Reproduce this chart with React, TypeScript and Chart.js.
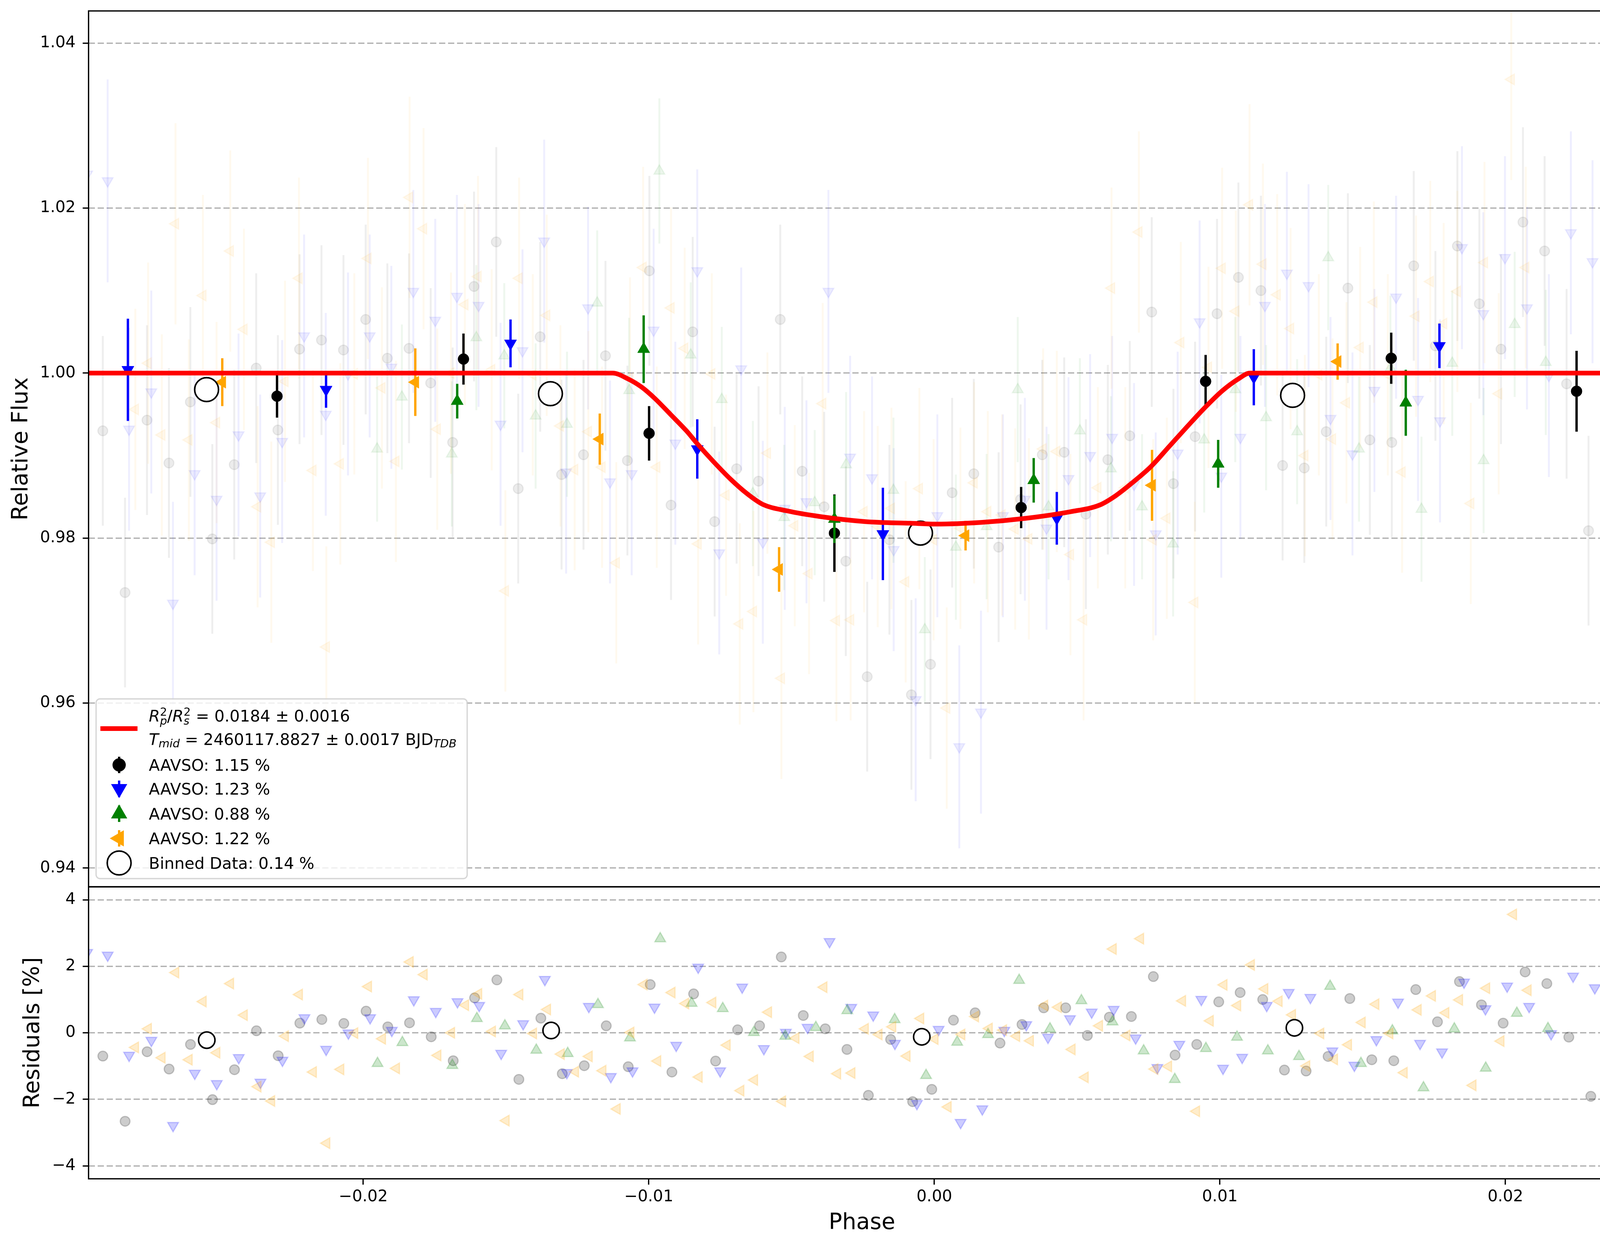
import React, { useEffect, useRef } from 'react';
import { Chart, registerables } from 'chart.js';
import { drawPoint } from 'chart.js/helpers';

Chart.register(...registerables);

// ---- light curve data (phase, relative flux, residual in %) ----

const blackPhase = [-0.02912, -0.02834, -0.02757, -0.0268, -0.02605, -0.02528, -0.02451, -0.02374, -0.02298, -0.02222, -0.02145, -0.02068, -0.0199, -0.01914, -0.01838, -0.01762, -0.01685, -0.0161,
  -0.01532, -0.01455, -0.01378, -0.01303, -0.01226, -0.01149, -0.01072, -0.00995, -0.00919, -0.00843, -0.00766, -0.00689, -0.00612, -0.00536, -0.00459, -0.00382, -0.00306,
  -0.00231, -0.00153, -0.00076, -0.00009, 0.00067, 0.00143, 0.0023, 0.00307, 0.00383, 0.0046, 0.00536, 0.00613, 0.0069, 0.00767, 0.00843, 0.00919, 0.00996, 0.01071,
  0.0115, 0.01226, 0.01302, 0.01379, 0.01455, 0.01532, 0.01609, 0.01686, 0.01762, 0.01839, 0.01916, 0.01992, 0.02069, 0.02145, 0.02222, 0.02299, 0.02376, 0.02451];
const blackFlux = [0.993, 0.9734, 0.9943, 0.9891, 0.9965, 0.9799, 0.9889, 1.0006, 0.9931, 1.0029, 1.004, 1.0028, 1.0065, 1.0018, 1.003, 0.9988, 0.9916, 1.0105,
  1.0159, 0.986, 1.0044, 0.9877, 0.9901, 1.0021, 0.9894, 1.0124, 0.984, 1.005, 0.982, 0.9884, 0.9869, 1.0065, 0.9881, 0.9838, 0.9772,
  0.9632, 0.9798, 0.961, 0.9647, 0.9855, 0.9878, 0.9789, 0.9847, 0.9901, 0.9904, 0.9829, 0.9895, 0.9924, 1.0074, 0.9866, 0.9923, 1.0072, 1.0116,
  1.01, 0.9888, 0.9885, 0.9929, 1.0103, 0.9919, 0.9916, 1.013, 1.0033, 1.0154, 1.0084, 1.0029, 1.0183, 1.0148, 0.9987, 0.9809, 0.9812, 1.0032];
const blackResid = [-0.7, -2.66, -0.57, -1.09, -0.35, -2.01, -1.11, 0.06, -0.69, 0.29, 0.4, 0.28, 0.65, 0.18, 0.3, -0.12, -0.84, 1.05,
  1.59, -1.4, 0.44, -1.23, -0.99, 0.21, -1.02, 1.45, -1.18, 1.17, -0.85, 0.09, 0.21, 2.28, 0.52, 0.12, -0.5,
  -1.88, -0.2, -2.07, -1.7, 0.38, 0.6, -0.31, 0.25, 0.75, 0.75, -0.08, 0.47, 0.49, 1.69, -0.67, -0.35, 0.93, 1.21,
  1.0, -1.12, -1.15, -0.71, 1.03, -0.81, -0.84, 1.3, 0.33, 1.54, 0.84, 0.29, 1.83, 1.48, -0.13, -1.91, -1.88, 0.32];
const blackErr = 0.0115;

const bluePhase = [-0.02967, -0.02895, -0.0282, -0.02742, -0.02666, -0.0259, -0.02513, -0.02436, -0.0236, -0.02283, -0.02206, -0.0213, -0.02052, -0.01976, -0.019, -0.01823, -0.01746, -0.0167,
  -0.01594, -0.01517, -0.0144, -0.01364, -0.01287, -0.0121, -0.01133, -0.01057, -0.0098, -0.00904, -0.00827, -0.0075, -0.00673, -0.00597, -0.0052, -0.00444, -0.00367, -0.00291,
  -0.00214, -0.00138, -0.00061, 0.00015, 0.00092, 0.00168, 0.00245, 0.00322, 0.00398, 0.00475, 0.00551, 0.00628, 0.00705, 0.00781, 0.00858, 0.00935, 0.01011, 0.01078,
  0.01164, 0.01241, 0.01317, 0.01394, 0.01471, 0.01548, 0.01624, 0.01701, 0.01778, 0.01855, 0.0193, 0.02006, 0.02083, 0.0216, 0.02237, 0.02313, 0.0239, 0.02455];
const blueFlux = [1.0241, 1.0233, 0.9932, 0.9977, 0.9721, 0.9878, 0.9847, 0.9925, 0.9851, 0.9917, 1.0045, 0.995, 0.9999, 1.0045, 1.0007, 1.0099, 1.0064, 1.0093,
  1.0082, 0.9938, 1.0027, 1.016, 0.988, 1.0079, 0.9868, 0.9878, 1.0052, 0.9915, 1.0124, 0.9782, 1.0005, 0.9795, 0.9836, 0.9844, 1.0099, 0.9898,
  0.9873, 0.9786, 0.9604, 0.9827, 0.9547, 0.9589, 0.9827, 0.9847, 0.9812, 0.9872, 0.99, 0.9922, 0.9865, 0.9805, 0.9903, 1.0062, 0.9875, 0.9922,
  1.0082, 1.0121, 1.0106, 0.9945, 0.9902, 0.9979, 1.0092, 0.9968, 0.9942, 1.0152, 1.0072, 1.014, 1.0079, 0.9997, 1.017, 1.0135, 1.0002, 0.9814];
const blueResid = [2.41, 2.33, -0.68, -0.23, -2.79, -1.22, -1.53, -0.75, -1.49, -0.83, 0.45, -0.5, -0.01, 0.45, 0.07, 0.99, 0.64, 0.93,
  0.82, -0.62, 0.27, 1.6, -1.2, 0.79, -1.32, -1.15, 0.77, -0.38, 1.97, -1.15, 1.37, -0.48, 0.01, 0.16, 2.74, 0.76,
  0.53, -0.32, -2.13, 0.1, -2.7, -2.29, 0.07, 0.24, -0.14, 0.42, 0.62, 0.7, -0.16, -1.05, -0.35, 1.0, -1.07, -0.74,
  0.82, 1.21, 1.06, -0.55, -0.98, -0.21, 0.92, -0.32, -0.58, 1.52, 0.72, 1.4, 0.79, -0.03, 1.7, 1.35, 0.02, -1.86];
const blueErr = 0.0123;

const greenPhase = [-0.0195, -0.01863, -0.01688, -0.01602, -0.01504, -0.01394, -0.01284, -0.01178, -0.01066, -0.0096, -0.0085, -0.00741, -0.00632, -0.00522, -0.00415, -0.00305,
  -0.00139, -0.00029, 0.0008, 0.00188, 0.00297, 0.00405, 0.00515, 0.00624, 0.00733, 0.00842, 0.00951, 0.0106,
  0.01168, 0.01277, 0.01386, 0.01494, 0.01604, 0.01713, 0.01821, 0.01931, 0.0204, 0.02149];
const greenFlux = [0.9908, 0.9971, 0.9902, 1.0043, 1.0021, 0.9948, 0.9938, 1.0085, 0.9979, 1.0245, 1.0022, 0.9968, 0.9854, 0.9825, 0.9843, 0.9889,
  0.9858, 0.9689, 0.9789, 0.9814, 0.998, 0.9838, 0.993, 0.9884, 0.9838, 0.9793, 0.9919, 0.998,
  0.9946, 0.9929, 1.014, 0.9908, 1.0006, 0.9835, 1.0012, 0.9894, 1.0059, 1.0013];
const greenResid = [-0.92, -0.29, -0.98, 0.43, 0.21, -0.52, -0.62, 0.85, -0.15, 2.83, 0.89, 0.73, 0.01, -0.1, 0.16, 0.67,
  0.4, -1.28, -0.28, -0.05, 1.58, 0.12, 0.97, 0.33, -0.54, -1.4, -0.47, -0.13,
  -0.54, -0.71, 1.4, -0.92, 0.06, -1.65, 0.12, -1.06, 0.59, 0.13];
const greenErr = 0.0088;

const orangePhase = [-0.02798, -0.02753, -0.02705, -0.02657, -0.0261, -0.02561, -0.02513, -0.02465, -0.02417, -0.02369, -0.02321, -0.02273, -0.02224, -0.02175, -0.02128, -0.02079, -0.0203, -0.01982, -0.01933, -0.01884, -0.01836, -0.01787, -0.01739, -0.01691, -0.01642,
  -0.01596, -0.01548, -0.015, -0.01452, -0.01404, -0.01355, -0.01307, -0.01257, -0.01209, -0.01161, -0.01111, -0.01063, -0.01017, -0.00969, -0.00919, -0.00871, -0.00824, -0.00776, -0.00726, -0.00678, -0.0063, -0.00581, -0.00532, -0.00485, -0.00435, -0.00387, -0.00339, -0.00289,
  -0.00242, -0.00194, -0.00146, -0.00096, -0.00048, 0.00002, 0.00048, 0.00096, 0.00144, 0.00192, 0.00242, 0.00288, 0.00336, 0.00386, 0.00434, 0.00482, 0.00528, 0.00578, 0.00626, 0.00674, 0.00722, 0.00772, 0.0082, 0.00869, 0.00918, 0.00966, 0.01014, 0.01062,
  0.0111, 0.01157, 0.01207, 0.01254, 0.01304, 0.01353, 0.01401, 0.0145, 0.01498, 0.01546, 0.01595, 0.01645, 0.01694, 0.01744, 0.01791, 0.01839, 0.01886, 0.01934, 0.01984, 0.02028, 0.02079];
const orangeFlux = [0.9956, 1.0012, 0.9925, 1.0181, 0.9919, 1.0094, 0.994, 1.0148, 1.0053, 0.9838, 0.9795, 0.999, 1.0115, 0.9882, 0.9668, 0.989, 0.9999, 1.0139, 0.9982, 0.9893, 1.0213, 1.0175, 0.9932, 1.0, 1.0083,
  1.0117, 1.0004, 0.9736, 1.0115, 0.9998, 1.007, 0.9936, 0.9883, 0.9929, 0.9886, 0.977, 0.9994, 1.0128, 0.9886, 1.0079, 1.003, 0.9793, 0.9999, 0.9852, 0.9696, 0.9711, 0.9903, 0.963, 0.9815, 0.9757, 0.9963, 0.97, 0.9701,
  0.9832, 0.9814, 0.9836, 0.9747, 0.986, 0.9798, 0.9594, 0.9812, 0.9867, 0.9832, 0.9828, 0.9811, 0.9799, 0.9908, 0.9905, 0.978, 0.9701, 0.9861, 1.0103, 0.9861, 1.0171, 0.9798, 0.9824, 1.0037, 0.9722, 1.0007, 1.0127, 1.0075,
  1.0204, 1.0132, 1.0095, 1.0054, 0.99, 0.9998, 0.992, 0.9964, 1.0031, 1.0086, 0.9998, 0.988, 1.0069, 1.0111, 1.006, 1.0099, 0.9842, 1.0134, 0.9975, 1.0356, 1.0128];
const orangeResid = [-0.44, 0.12, -0.75, 1.81, -0.81, 0.94, -0.6, 1.48, 0.53, -1.62, -2.05, -0.1, 1.15, -1.18, -3.32, -1.1, -0.01, 1.39, -0.18, -1.07, 2.13, 1.75, -0.68, 0.0, 0.83,
  1.17, 0.04, -2.64, 1.15, -0.02, 0.7, -0.64, -1.17, -0.71, -1.14, -2.29, 0.01, 1.45, -0.85, 1.21, 0.88, -1.33, 0.91, -0.37, -1.74, -1.42, 0.62, -2.06, -0.16, -0.71, 1.37, -1.23, -1.21,
  0.12, -0.05, 0.18, -0.7, 0.43, -0.19, -2.23, -0.05, 0.49, 0.13, 0.08, -0.1, -0.24, 0.82, 0.77, -0.5, -1.34, 0.21, 2.52, -0.08, 2.83, -1.09, -1.01, 0.96, -2.36, 0.36, 1.44, 0.82,
  2.04, 1.32, 0.95, 0.54, -1.0, -0.02, -0.8, -0.36, 0.31, 0.86, -0.02, -1.2, 0.69, 1.11, 0.6, 0.99, -1.58, 1.34, -0.25, 3.56, 1.28];
const orangeErr = 0.0122;

// binned points per observer
const blackBinPhase = [-0.02301, -0.01647, -0.00996, -0.00346, 0.00309, 0.00956, 0.01607, 0.02257];
const blackBinFlux = [0.9972, 1.0017, 0.9927, 0.9806, 0.9837, 0.999, 1.0018, 0.9978];
const blackBinErr = [0.0026, 0.0031, 0.0033, 0.0047, 0.0025, 0.0032, 0.0031, 0.0049];
const blueBinPhase = [-0.02824, -0.02129, -0.01482, -0.00827, -0.00176, 0.00434, 0.01125, 0.01776, 0.02426];
const blueBinFlux = [1.0004, 0.998, 1.0036, 0.9908, 0.9805, 0.9824, 0.9995, 1.0033, 0.9957];
const blueBinErr = [0.0062, 0.0022, 0.0029, 0.0036, 0.0056, 0.0032, 0.0034, 0.0027, 0.0052];
const greenBinPhase = [-0.01669, -0.01015, -0.00346, 0.00353, 0.01, 0.01658];
const greenBinFlux = [0.9966, 1.0029, 0.9823, 0.987, 0.989, 0.9964];
const greenBinErr = [0.0021, 0.0041, 0.0029, 0.0027, 0.0029, 0.004];
const orangeBinPhase = [-0.02493, -0.01816, -0.01169, -0.0054, 0.00114, 0.00768, 0.01419];
const orangeBinFlux = [0.9989, 0.9989, 0.992, 0.9762, 0.9803, 0.9864, 1.0014];
const orangeBinErr = [0.0029, 0.0041, 0.0031, 0.0027, 0.0018, 0.0043, 0.0022];

// all data binned
const allBinPhase = [-0.02548, -0.01342, -0.00044, 0.01261];
const allBinFlux = [0.998, 0.9975, 0.9806, 0.9973];
const allBinErr = [0.0015, 0.0015, 0.0015, 0.0015];
const allBinResid = [-0.22, 0.07, -0.12, 0.15];

// transit model
const modelPhase = [-0.02962, -0.01124, -0.0107, -0.01022, -0.00975, -0.00921, -0.00865, -0.00826, -0.00771, -0.00709, -0.00653, -0.00598, -0.00512, -0.00394, -0.00237, -0.00079,
  0.00011, 0.00168, 0.00325, 0.00482, 0.00584, 0.00639, 0.00702, 0.00765, 0.00828, 0.00891, 0.00953, 0.01016, 0.01071, 0.01111, 0.02455];
const modelFlux = [1.0, 1.0, 0.9993, 0.9983, 0.9969, 0.995, 0.993, 0.9914, 0.9893, 0.9871, 0.9854, 0.9841, 0.9833, 0.9826, 0.982, 0.9818,
  0.9817, 0.9819, 0.9824, 0.9832, 0.984, 0.9851, 0.9868, 0.9887, 0.9911, 0.9935, 0.9958, 0.9979, 0.9993, 1.0, 1.0];

const phaseTicks = [-0.02, -0.01, 0, 0.01, 0.02];
const fluxTicks = [0.94, 0.96, 0.98, 1.0, 1.02, 1.04];
const residTicks = [-4, -2, 0, 2, 4];

const legendLabels = ['AAVSO: 1.15 %', 'AAVSO: 1.23 %', 'AAVSO: 0.88 %', 'AAVSO: 1.22 %', 'Binned Data: 0.14 %'];

// ---- layout (page pixels) ----
const W = 4215;
const H = 3192;
const AXIS_W = 226.7;
const PAD_RIGHT = 28.5;
const PLOT_TOP = 28;
const SPLIT = 2270; // border shared by the two panels
const PAD = 50; // must exceed Chart.js' own label padding
const TOP_Y = PLOT_TOP - PAD;
const TOP_H = SPLIT + PAD - TOP_Y;
const BOT_TOP = SPLIT - PAD;
const BOT_H = H - BOT_TOP;
const PHASE_MIN = -0.02962;
const PHASE_MAX = 0.02455;
const FONT = 'DejaVu Sans';
const TICK_SIZE = 41;
const LABEL_SIZE = 57;

const pts = (xs: number[], ys: number[]) => xs.map((x, i) => ({ x, y: ys[i] }));

const errorBars = {
  id: 'errorBars',
  beforeDatasetDraw(chart: any, args: any) {
    const ds = chart.data.datasets[args.index];
    if (ds.errors == null) return;
    const meta = chart.getDatasetMeta(args.index);
    const ys = chart.scales.y;
    const { ctx, chartArea: a } = chart;
    ctx.save();
    ctx.beginPath();
    ctx.rect(a.left, a.top, a.right - a.left, a.bottom - a.top);
    ctx.clip();
    ctx.strokeStyle = ds.errorColor;
    ctx.lineWidth = ds.errorWidth;
    ctx.beginPath();
    meta.data.forEach((el: any, i: number) => {
      const p = ds.data[i];
      const e = Array.isArray(ds.errors) ? ds.errors[i] : ds.errors;
      ctx.moveTo(el.x, ys.getPixelForValue(p.y + e));
      ctx.lineTo(el.x, ys.getPixelForValue(p.y - e));
    });
    ctx.stroke();
    ctx.restore();
  },
};

const frame = {
  id: 'frame',
  afterDatasetsDraw(chart: any) {
    const { ctx, chartArea: a } = chart;
    ctx.save();
    ctx.strokeStyle = '#000';
    ctx.lineWidth = 3.3;
    ctx.strokeRect(a.left, a.top, a.right - a.left, a.bottom - a.top);
    ctx.restore();
  },
};

type Run = { t: string; size: number; italic?: boolean; dy?: number; sup?: string; sub?: string; subItalic?: boolean };

function drawRuns(ctx: CanvasRenderingContext2D, x: number, base: number, runs: Run[]) {
  const f = (size: number, italic?: boolean) => `${italic ? 'italic ' : ''}${size}px "${FONT}"`;
  for (const r of runs) {
    if (r.sup != null || r.sub != null) {
      let w = 0;
      if (r.sup != null) {
        ctx.font = f(r.size);
        ctx.fillText(r.sup, x, base - 15);
        w = Math.max(w, ctx.measureText(r.sup).width);
      }
      if (r.sub != null) {
        ctx.font = f(r.size, r.subItalic);
        ctx.fillText(r.sub, x, base + 8);
        w = Math.max(w, ctx.measureText(r.sub).width);
      }
      x += w;
      continue;
    }
    ctx.font = f(r.size, r.italic);
    ctx.fillText(r.t, x, base + (r.dy || 0));
    x += ctx.measureText(r.t).width;
  }
}

const legendBox = {
  id: 'legendBox',
  afterDraw(chart: any) {
    const ctx: CanvasRenderingContext2D = chart.ctx;
    const L = 246, T = 1789, R = 1196, B = 2249, rad = 10;
    ctx.save();
    ctx.translate(0, -TOP_Y); // page coordinates
    ctx.beginPath();
    ctx.moveTo(L + rad, T);
    ctx.arcTo(R, T, R, B, rad);
    ctx.arcTo(R, B, L, B, rad);
    ctx.arcTo(L, B, L, T, rad);
    ctx.arcTo(L, T, R, T, rad);
    ctx.closePath();
    ctx.fillStyle = 'rgba(255,255,255,0.8)';
    ctx.fill();
    ctx.strokeStyle = 'rgba(204,204,204,0.8)';
    ctx.lineWidth = 3.3;
    ctx.stroke();

    const mx = 305;
    const tx = 381;
    ctx.fillStyle = '#000';
    ctx.textBaseline = 'alphabetic';
    ctx.textAlign = 'left';

    // model entry
    ctx.strokeStyle = 'red';
    ctx.lineWidth = 12;
    ctx.beginPath();
    ctx.moveTo(257, 1865);
    ctx.lineTo(352, 1865);
    ctx.stroke();
    const s = TICK_SIZE, ss = 28.7;
    drawRuns(ctx, tx, 1847, [
      { t: 'R', size: s, italic: true },
      { t: '', size: ss, sup: '2', sub: 'p', subItalic: true },
      { t: '/', size: s },
      { t: 'R', size: s, italic: true },
      { t: '', size: ss, sup: '2', sub: 's', subItalic: true },
      { t: ' = 0.0184 \u00b1 0.0016', size: s },
    ]);
    drawRuns(ctx, tx, 1907, [
      { t: 'T', size: s, italic: true },
      { t: 'mid', size: ss, italic: true, dy: 6 },
      { t: ' = 2460117.8827 \u00b1 0.0017 BJD', size: s },
      { t: 'TDB', size: ss, italic: true, dy: 6 },
    ]);

    const marks = [
      { color: '#000', style: 'circle', rot: 0, r: 14, y: 1958 },
      { color: '#0000ff', style: 'triangle', rot: 180, r: 18, y: 2019 },
      { color: '#008000', style: 'triangle', rot: 0, r: 18, y: 2083 },
      { color: '#ffa500', style: 'triangle', rot: 270, r: 18, y: 2146 },
    ];
    marks.forEach((m, i) => {
      ctx.strokeStyle = m.color;
      ctx.lineWidth = 6;
      ctx.beginPath();
      ctx.moveTo(mx, m.y - 21);
      ctx.lineTo(mx, m.y + 21);
      ctx.stroke();
      ctx.fillStyle = m.color;
      ctx.strokeStyle = m.color;
      drawPoint(ctx, { pointStyle: m.style, rotation: m.rot, radius: m.r, borderWidth: 1 } as any, mx, m.y);
      ctx.fillStyle = '#000';
      ctx.font = `${s}px "${FONT}"`;
      ctx.fillText(legendLabels[i], tx, m.y + 15);
    });
    ctx.fillStyle = '#fff';
    ctx.strokeStyle = '#000';
    ctx.lineWidth = 4;
    drawPoint(ctx, { pointStyle: 'circle', rotation: 0, radius: 30.5, borderWidth: 4 } as any, mx, 2209);
    ctx.fillStyle = '#000';
    ctx.font = `${s}px "${FONT}"`;
    ctx.fillText(legendLabels[4], tx, 2224);
    ctx.restore();
  },
};

function markers(data: any[], style: string, rotation: number, radius: number, fill: string, stroke: string, bw: number, order: number, extra: any = {}) {
  return {
    type: 'scatter',
    data,
    showLine: false,
    pointStyle: style,
    rotation,
    pointRadius: radius,
    pointHoverRadius: radius,
    pointBackgroundColor: fill,
    pointBorderColor: stroke,
    pointBorderWidth: bw,
    order,
    ...extra,
  };
}

const faint = (c: string, a: number) => `rgba(${c},${a})`;
const BLACK = '0,0,0', BLUE = '0,0,255', GREEN = '0,128,0', ORANGE = '255,165,0';

const yTicks = (fmt: (v: number) => string) => ({
  color: '#000',
  padding: 18,
  font: { family: FONT, size: TICK_SIZE },
  callback: (v: any) => fmt(Number(v)),
});
const dashedGrid = { color: '#b0b0b0', lineWidth: 3.3, tickColor: '#000', tickLength: 15, tickWidth: 3.3, tickBorderDash: [] };

function topConfig(): any {
  const fa = 0.075, ea = 0.065;
  return {
    type: 'scatter',
    data: {
      datasets: [
        markers(pts(blackPhase, blackFlux), 'circle', 0, 12.5, faint(BLACK, fa), faint(BLACK, fa), 3, 13, { errors: blackErr, errorColor: faint(BLACK, ea), errorWidth: 5 }),
        markers(pts(bluePhase, blueFlux), 'triangle', 180, 16, faint(BLUE, fa), faint(BLUE, fa), 3, 12, { errors: blueErr, errorColor: faint(BLUE, ea), errorWidth: 5 }),
        markers(pts(greenPhase, greenFlux), 'triangle', 0, 16, faint(GREEN, fa), faint(GREEN, fa), 3, 11, { errors: greenErr, errorColor: faint(GREEN, ea), errorWidth: 5 }),
        markers(pts(orangePhase, orangeFlux), 'triangle', 270, 16, faint(ORANGE, fa), faint(ORANGE, fa), 3, 10, { errors: orangeErr, errorColor: faint(ORANGE, ea), errorWidth: 5 }),
        markers(pts(blackBinPhase, blackBinFlux), 'circle', 0, 14, '#000', '#000', 1, 8, { errors: blackBinErr, errorColor: '#000', errorWidth: 6 }),
        markers(pts(blueBinPhase, blueBinFlux), 'triangle', 180, 18, '#0000ff', '#0000ff', 1, 7, { errors: blueBinErr, errorColor: '#0000ff', errorWidth: 6 }),
        markers(pts(greenBinPhase, greenBinFlux), 'triangle', 0, 18, '#008000', '#008000', 1, 6, { errors: greenBinErr, errorColor: '#008000', errorWidth: 6 }),
        markers(pts(orangeBinPhase, orangeBinFlux), 'triangle', 270, 18, '#ffa500', '#ffa500', 1, 5, { errors: orangeBinErr, errorColor: '#ffa500', errorWidth: 6 }),
        markers(pts(allBinPhase, allBinFlux), 'circle', 0, 30.5, '#fff', '#000', 4, 2, { errors: allBinErr, errorColor: '#000', errorWidth: 4 }),
        {
          type: 'line',
          data: pts(modelPhase, modelFlux),
          showLine: true,
          borderColor: 'red',
          borderWidth: 12,
          pointRadius: 0,
          cubicInterpolationMode: 'monotone',
          fill: false,
          order: 1,
        },
      ],
    },
    options: {
      animation: false,
      responsive: false,
      devicePixelRatio: 1,
      layout: { padding: { left: 0, right: PAD_RIGHT, top: PAD, bottom: PAD } },
      plugins: { legend: { display: false }, tooltip: { enabled: false } },
      scales: {
        x: { type: 'linear', min: PHASE_MIN, max: PHASE_MAX, display: false },
        y: {
          type: 'linear',
          min: 0.93773,
          max: 1.0439,
          afterBuildTicks: (sc: any) => { sc.ticks = fluxTicks.map((value) => ({ value })); },
          afterFit: (sc: any) => { sc.width = AXIS_W; },
          ticks: yTicks((v) => v.toFixed(2)),
          grid: dashedGrid,
          border: { display: false, dash: [16, 7] },
          title: { display: true, text: 'Relative Flux', color: '#000', font: { family: FONT, size: LABEL_SIZE }, padding: { top: 21, bottom: 0 } },
        },
      },
    },
    plugins: [errorBars, frame, legendBox],
  };
}

function bottomConfig(): any {
  const ra = 0.2;
  return {
    type: 'scatter',
    data: {
      datasets: [
        markers(pts(blackPhase, blackResid), 'circle', 0, 12.5, faint(BLACK, ra), faint(BLACK, ra), 3, 13),
        markers(pts(bluePhase, blueResid), 'triangle', 180, 16, faint(BLUE, ra), faint(BLUE, ra), 3, 12),
        markers(pts(greenPhase, greenResid), 'triangle', 0, 16, faint(GREEN, ra), faint(GREEN, ra), 3, 11),
        markers(pts(orangePhase, orangeResid), 'triangle', 270, 16, faint(ORANGE, ra), faint(ORANGE, ra), 3, 10),
        markers(pts(allBinPhase, allBinResid), 'circle', 0, 21, '#fff', '#000', 4, 2),
      ],
    },
    options: {
      animation: false,
      responsive: false,
      devicePixelRatio: 1,
      layout: { padding: { left: 0, right: PAD_RIGHT, top: PAD, bottom: 0 } },
      plugins: { legend: { display: false }, tooltip: { enabled: false } },
      scales: {
        x: {
          type: 'linear',
          min: PHASE_MIN,
          max: PHASE_MAX,
          afterBuildTicks: (sc: any) => { sc.ticks = phaseTicks.map((value) => ({ value })); },
          afterFit: (sc: any) => { sc.height = 174.6; },
          ticks: {
            color: '#000',
            padding: 7,
            maxRotation: 0,
            autoSkip: false,
            font: { family: FONT, size: TICK_SIZE },
            callback: (v: any) => {
              const n = Number(v);
              const t = Math.abs(n).toFixed(2);
              return n < -1e-9 ? '\u2212' + t : t;
            },
          },
          grid: { drawOnChartArea: false, tickColor: '#000', tickLength: 15, tickWidth: 3.3 },
          border: { display: false },
          title: { display: true, text: 'Phase', color: '#000', font: { family: FONT, size: LABEL_SIZE }, padding: { top: 0, bottom: 27 } },
        },
        y: {
          type: 'linear',
          min: -4.39,
          max: 4.39,
          afterBuildTicks: (sc: any) => { sc.ticks = residTicks.map((value) => ({ value })); },
          afterFit: (sc: any) => { sc.width = AXIS_W; },
          ticks: yTicks((v) => (v < 0 ? '\u2212' + Math.abs(v) : String(v))),
          grid: dashedGrid,
          border: { display: false, dash: [16, 7] },
          title: { display: true, text: 'Residuals [%]', color: '#000', font: { family: FONT, size: LABEL_SIZE }, padding: { top: 51, bottom: 0 } },
        },
      },
    },
    plugins: [errorBars, frame],
  };
}

export default function App() {
  const topRef = useRef<HTMLCanvasElement | null>(null);
  const botRef = useRef<HTMLCanvasElement | null>(null);

  useEffect(() => {
    if (!topRef.current || !botRef.current) return;
    const top = new Chart(topRef.current, topConfig());
    const bottom = new Chart(botRef.current, bottomConfig());
    return () => {
      top.destroy();
      bottom.destroy();
    };
  }, []);

  return (
    <div style={{ position: 'absolute', left: 0, top: 0, width: W, height: H, background: '#fff', overflow: 'hidden' }}>
      <canvas ref={topRef} width={W} height={TOP_H} style={{ position: 'absolute', left: 0, top: TOP_Y, width: W, height: TOP_H }} />
      <canvas ref={botRef} width={W} height={BOT_H} style={{ position: 'absolute', left: 0, top: BOT_TOP, width: W, height: BOT_H }} />
    </div>
  );
}
